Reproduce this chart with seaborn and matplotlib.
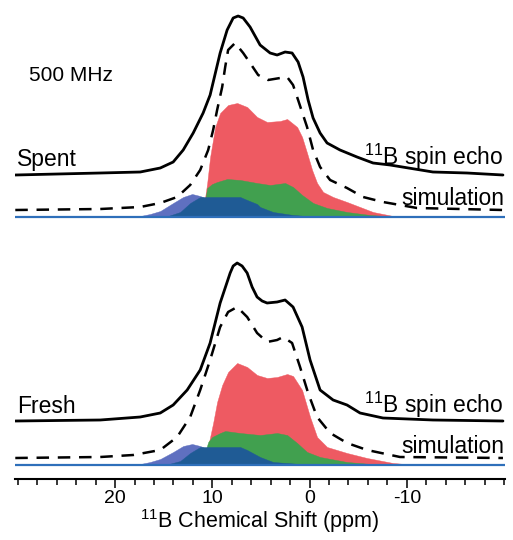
import numpy as np
import pandas as pd
import seaborn as sns
import matplotlib
matplotlib.use("Agg")
import matplotlib.pyplot as plt
from matplotlib.ticker import MultipleLocator, FixedLocator

# ---------------- data ----------------
# Spent sample
spent_echo_ppm = [30.27, 21.53, 17.42, 15.36, 14.03, 13.0, 11.97, 10.95, 10.23, 9.2, 8.48,
                  7.86, 7.35, 6.83, 6.12, 5.09, 4.06, 3.34, 2.52, 1.8, 1.18, 0.67, 0.15,
                  -0.36, -1.08, -1.8, -3.13, -4.88, -6.53, -8.28, -12.69, -16.19, -19.89]
spent_echo = [0, 2, 3, 7, 13, 25, 42, 62, 80, 122, 145,
              157, 159, 157, 148, 130, 122, 120, 123, 122, 113, 98, 75,
              57, 42, 32, 25, 18, 12, 10, 3, 2, 0]

spent_sim_ppm = [30.27, 21.53, 17.42, 15.36, 13.62, 12.28, 11.25, 10.43, 9.92, 9.51, 8.99,
                 8.68, 8.38, 7.66, 6.83, 6.12, 5.29, 4.27, 3.03, 2.31, 1.7, 1.18, 0.67,
                 0.26, -0.36, -1.08, -2.11, -3.85, -5.5, -7.55, -11.05, -19.89]
spent_sim = [0, 1, 3, 7, 13, 25, 40, 60, 80, 100, 123,
             143, 160, 167, 157, 147, 135, 130, 132, 133, 125, 110, 95,
             83, 60, 43, 30, 22, 13, 8, 2, 0]

spent_red_ppm = [11.77, 10.95, 10.74, 10.53, 10.23, 9.71, 9.2, 8.38, 7.45, 6.42, 5.4, 4.37,
                 3.03, 2.31, 1.28, 0.77, 0.26, -0.26, -0.77, -1.39, -2.42, -3.85, -5.19,
                 -6.53, -8.58, -10.3]
spent_red = [0, 5, 20, 34, 60, 90, 104, 112, 114, 110, 100, 95,
             96, 98, 90, 80, 64, 47, 34, 25, 20, 15, 10,
             5, 1, 0]

spent_green_ppm = [11.25, 10.74, 10.53, 10.02, 9.51, 8.48, 7.14, 5.4, 4.06, 2.52, 1.7, 0.77,
                   -0.36, -1.8, -3.85, -6.22, -9.3]
spent_green = [0, 17, 29, 33, 35, 38, 37, 34, 32, 34, 30, 22,
               14, 9, 5, 2, 0]

spent_dblue_ppm = [14.85, 13.31, 12.28, 11.25, 7.14, 6.42, 5.4, 5.09, 3.75, 1.7, -1.08]
spent_dblue = [0, 5, 14, 20, 20, 17, 13, 10, 5, 2, 0]

spent_lblue_ppm = [17.9, 16.4, 15.36, 14.03, 13.0, 12.08, 11.25, 10.53, 9.71, 8.68, 7.66]
spent_lblue = [0, 3, 6, 14, 20, 23, 21, 18, 12, 5, 0]

# Fresh sample
fresh_echo_ppm = [30.27, 21.53, 17.42, 15.36, 14.03, 12.59, 11.25, 10.23, 9.2, 8.17, 7.86,
                  7.45, 6.94, 6.42, 5.91, 5.4, 4.88, 4.37, 3.34, 2.52, 1.7, 0.77, -0.05,
                  -1.08, -2.42, -3.85, -5.19, -7.55, -12.69, -19.89]
fresh_echo = [0, 1, 4, 8, 16, 31, 51, 78, 118, 148, 155,
              158, 155, 148, 134, 124, 120, 118, 119, 121, 114, 94, 61,
              31, 21, 16, 8, 3, 1, 0]

fresh_sim_ppm = [30.27, 21.53, 18.14, 15.36, 13.62, 12.28, 11.25, 10.23, 9.2, 8.38, 7.45,
                 6.42, 5.4, 4.37, 3.34, 2.72, 1.8, 0.98, 0.15, -0.77, -2.11, -3.85, -5.91,
                 -9.3, -19.89]
fresh_sim = [0, 1, 3, 8, 21, 41, 68, 98, 131, 146, 151,
             141, 125, 116, 118, 121, 115, 91, 65, 41, 25, 15, 8,
             1, 0]

fresh_red_ppm = [11.25, 10.95, 10.53, 10.23, 9.92, 9.51, 8.99, 8.38, 7.45, 6.42, 5.4, 4.37,
                 3.34, 2.31, 1.7, 0.77, -0.05, -0.77, -1.8, -3.85, -5.91, -8.58, -11.05]
fresh_red = [0, 2, 15, 28, 42, 63, 80, 93, 102, 98, 90, 87,
             88, 91, 89, 75, 48, 28, 18, 12, 7, 2, 0]

fresh_green_ppm = [11.25, 10.74, 10.43, 10.02, 9.2, 8.68, 7.14, 5.09, 3.34, 2.31, 1.28, 0.26,
                   -1.08, -3.85, -7.55]
fresh_green = [0, 13, 23, 28, 32, 34, 32, 30, 32, 30, 22, 13,
               8, 3, 0]

fresh_dblue_ppm = [14.85, 13.31, 12.28, 11.25, 7.14, 6.42, 5.09, 3.75, 0.98, -1.08]
fresh_dblue = [0, 4, 12, 18, 18, 15, 8, 3, 1, 0]

fresh_lblue_ppm = [17.9, 16.4, 15.36, 14.03, 13.0, 12.08, 11.25, 10.53, 9.71, 8.68, 7.66]
fresh_lblue = [0, 3, 6, 13, 19, 21, 19, 16, 10, 4, 0]

x_major = [20, 10, 0, -10]
x_ticklabels = ["20", "10", "0", "-10"]

# ---------------- layout constants ----------------
OFF = {"spent": {"echo": 304, "sim": 269, "comp": 262},
       "fresh": {"echo": 58, "sim": 21, "comp": 14}}

C_RED = "#ee5a62"
C_GREEN = "#41a04f"
C_DBLUE = "#1f5b95"
C_LBLUE = "#5f70c0"
C_BASE = "#2e6fba"

sns.set_style("white")
plt.rcParams["font.family"] = ["Liberation Sans", "DejaVu Sans"]
plt.rcParams["mathtext.fontset"] = "custom"
plt.rcParams["mathtext.rm"] = "Liberation Sans"
plt.rcParams["mathtext.it"] = "Liberation Sans:italic"
plt.rcParams["mathtext.default"] = "regular"
plt.rcParams["axes.unicode_minus"] = False
plt.rcParams["text.color"] = "black"
plt.rcParams["axes.labelcolor"] = "black"
plt.rcParams["xtick.color"] = "black"
plt.rcParams["axes.edgecolor"] = "black"

fig = plt.figure(figsize=(5.13, 5.40), dpi=100)
ax = fig.add_axes([15 / 513, 61 / 540, 490 / 513, 479 / 540])

XL = (30.3, -20.1)

samples = [
    ("spent", spent_echo_ppm, spent_echo, spent_sim_ppm, spent_sim,
     [(spent_lblue_ppm, spent_lblue, C_LBLUE), (spent_red_ppm, spent_red, C_RED),
      (spent_green_ppm, spent_green, C_GREEN), (spent_dblue_ppm, spent_dblue, C_DBLUE)]),
    ("fresh", fresh_echo_ppm, fresh_echo, fresh_sim_ppm, fresh_sim,
     [(fresh_lblue_ppm, fresh_lblue, C_LBLUE), (fresh_red_ppm, fresh_red, C_RED),
      (fresh_green_ppm, fresh_green, C_GREEN), (fresh_dblue_ppm, fresh_dblue, C_DBLUE)]),
]

for key, e_ppm, echo, s_ppm, sim, comps in samples:
    o = OFF[key]
    cb = o["comp"]
    for z, (cppm, cval, col) in enumerate(comps):
        ax.fill_between(cppm, cb, cb + np.array(cval), color=col, lw=0.3,
                        edgecolor=col, zorder=2 + z)
    sns.lineplot(x=list(XL), y=[cb, cb], color=C_BASE, lw=1.6, ax=ax, zorder=6)

    de = pd.DataFrame({"ppm": e_ppm, "y": np.array(echo) + o["echo"]})
    ds = pd.DataFrame({"ppm": s_ppm, "y": np.array(sim) + o["sim"]})
    sns.lineplot(data=de, x="ppm", y="y", color="black", lw=2.0, ax=ax,
                 sort=False, zorder=7, solid_joinstyle="round")
    sns.lineplot(data=ds, x="ppm", y="y", color="black", lw=1.8, ax=ax,
                 sort=False, zorder=7, linestyle=(0, (5, 3.5)))

ax.set_xlim(*XL)
ax.set_ylim(0, 479)

for s in ["left", "right", "top"]:
    ax.spines[s].set_visible(False)
ax.spines["bottom"].set_linewidth(1.5)
ax.spines["bottom"].set_color("black")
ax.set_yticks([])
ax.xaxis.set_major_locator(FixedLocator(x_major))
ax.set_xticklabels(x_ticklabels)
ax.xaxis.set_minor_locator(MultipleLocator(2))
ax.tick_params(axis="x", which="major", direction="out", length=6.5, width=1.1,
               labelsize=14, pad=1.5, bottom=True, color="black", labelcolor="black")
ax.tick_params(axis="x", which="minor", direction="out", length=4.5, width=1.1,
               bottom=True, color="black")
ax.set_xlabel("$^{11}$B Chemical Shift (ppm)", fontsize=15.5, labelpad=0, color="black")
ax.set_ylabel("")

fs = 16.5
ax.text(30.1, 313, "Spent", fontsize=fs, ha="left", va="baseline")
ax.text(-19.9, 314, "$^{11}$B spin echo", fontsize=fs, ha="right", va="baseline")
ax.text(-20.0, 274, "simulation", fontsize=fs, ha="right", va="baseline")
ax.text(28.9, 398, "500 MHz", fontsize=15, ha="left", va="baseline")
ax.text(30.1, 66, "Fresh", fontsize=fs, ha="left", va="baseline")
ax.text(-19.9, 66, "$^{11}$B spin echo", fontsize=fs, ha="right", va="baseline")
ax.text(-20.0, 26, "simulation", fontsize=fs, ha="right", va="baseline")

fig.savefig("out.png", dpi=100)
